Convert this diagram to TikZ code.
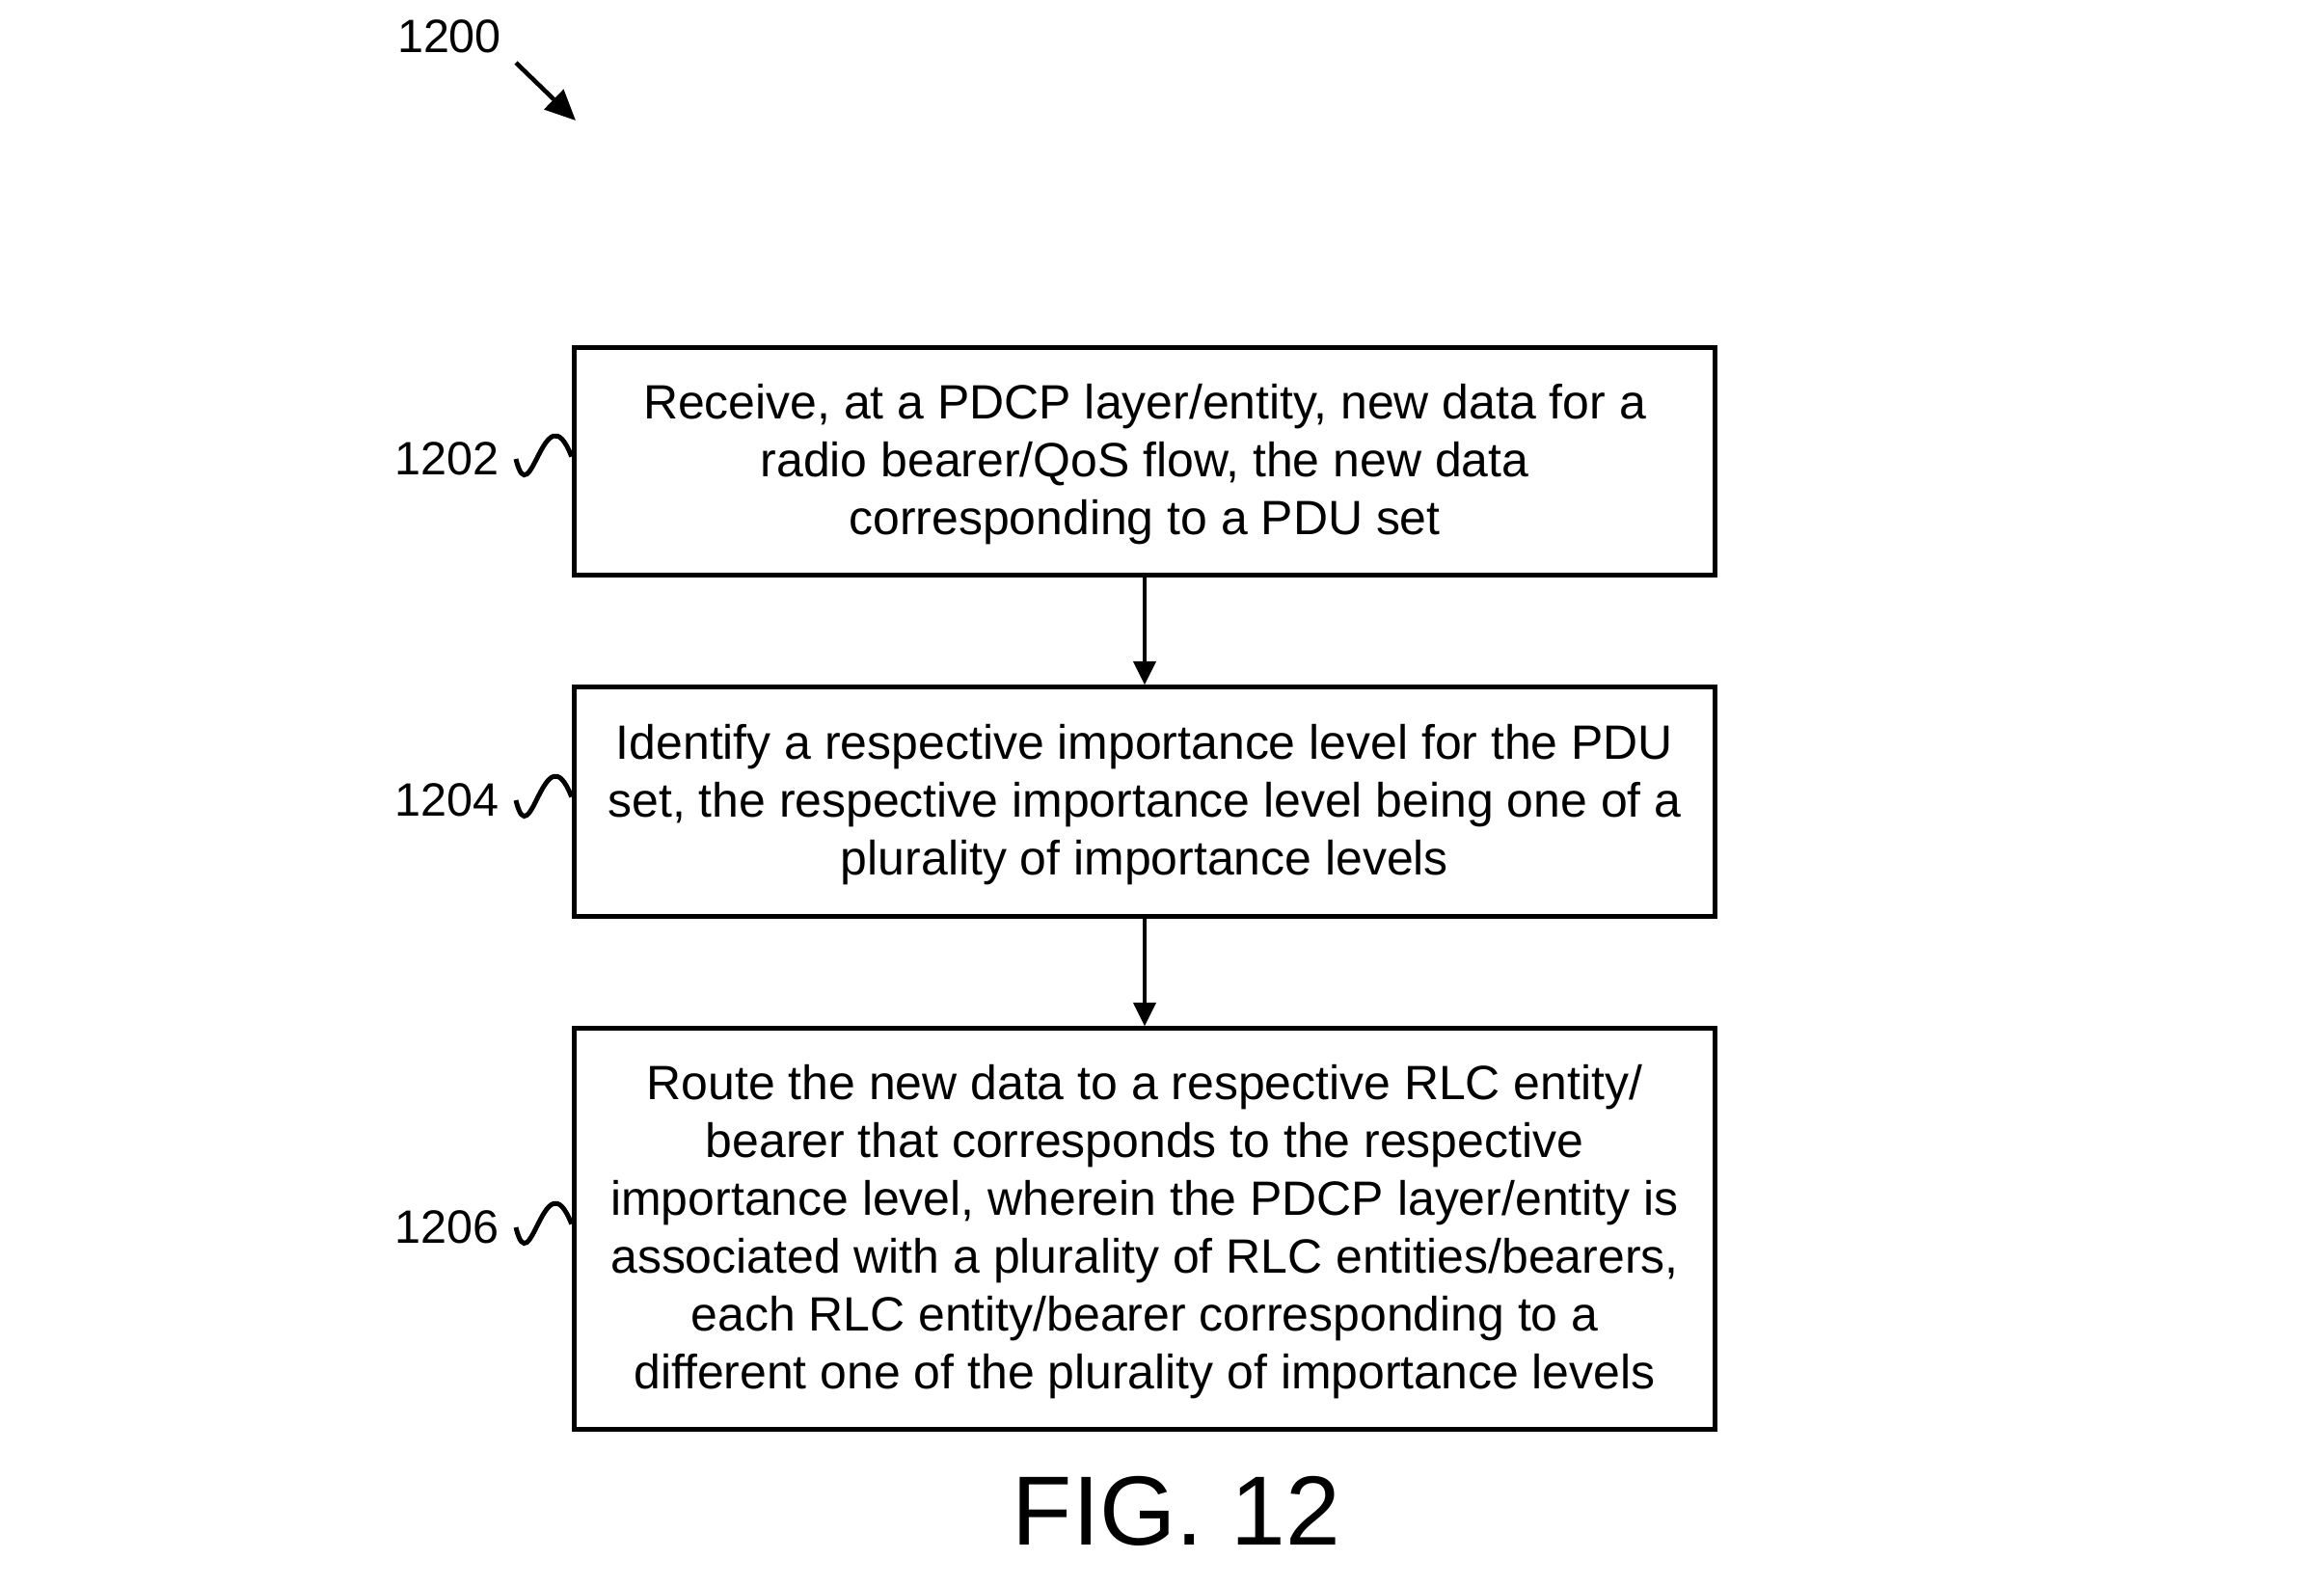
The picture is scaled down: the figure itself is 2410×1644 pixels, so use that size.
\documentclass[tikz,border=0pt]{standalone}
\usepackage{fontspec}
\setmainfont{Liberation Sans}
\usetikzlibrary{arrows.meta}
\begin{document}
\begin{tikzpicture}[x=0.01cm,y=-0.01cm,
  stepbox/.style={draw,line width=1.4pt,minimum width=11.83cm,align=center,
    font=\fontsize{14.2}{17.1}\selectfont,inner sep=0pt},
  reflabel/.style={font=\fontsize{13.8}{16}\selectfont,inner sep=2pt},
  flow/.style={line width=1.3pt,-{Triangle[length=7pt,width=6.5pt]}},
  squig/.style={line width=1.4pt}]
\useasboundingbox (0,0) rectangle (2410,1644);
\node[reflabel] (l0) at (466,38) {1200};
\coordinate (a0s) at (535,65);
\coordinate (a0e) at (597,125);
\draw[line width=1.3pt,-{Triangle[length=9pt,width=8pt]}] (a0s) -- (a0e);

\node[stepbox,minimum height=2.35cm] (b1) at (1187,478.5)
  {\strut Receive, at a PDCP layer/entity, new data for a\\radio bearer/QoS flow, the new data\\corresponding to a PDU set};
\node[stepbox,minimum height=2.37cm] (b2) at (1187,831.5)
  {\strut Identify a respective importance level for the PDU\\set, the respective importance level being one of a\\plurality of importance levels};
\node[stepbox,minimum height=4.15cm] (b3) at (1187,1274.5)
  {\strut Route the new data to a respective RLC entity/\\bearer that corresponds to the respective\\importance level, wherein the PDCP layer/entity is\\associated with a plurality of RLC entities/bearers,\\each RLC entity/bearer corresponding to a\\different one of the plurality of importance levels};

\draw[flow] (b1) -- (b2);
\draw[flow] (b2) -- (b3);

\node[reflabel,anchor=east] (l1) at (525,476) {1202};
\node[reflabel,anchor=east] (l2) at (525,830) {1204};
\node[reflabel,anchor=east] (l3) at (525,1273) {1206};
\draw[squig] ([xshift=0.1cm]l1.east) .. controls +(15,62) and +(-28,-72) .. ([yshift=0.05cm]b1.west);
\draw[squig] ([xshift=0.1cm]l2.east) .. controls +(15,62) and +(-28,-72) .. ([yshift=0.05cm]b2.west);
\draw[squig] ([xshift=0.1cm]l3.east) .. controls +(15,62) and +(-28,-72) .. ([yshift=0.05cm]b3.west);

\node[font=\fontsize{29}{34}\selectfont] (fig) at (1220,1567) {FIG. 12};
\end{tikzpicture}
\end{document}
